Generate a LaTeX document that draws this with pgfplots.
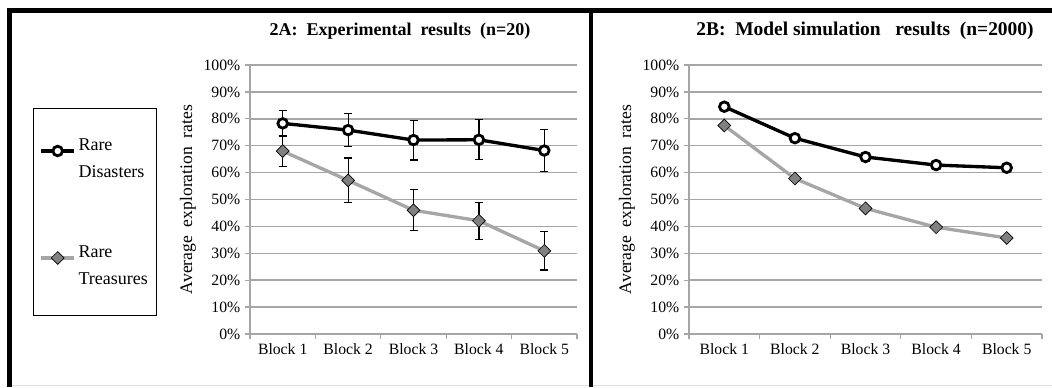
\documentclass[border=0pt]{standalone}
\usepackage{fontspec}
\setmainfont{Liberation Serif}
\usepackage{pgfplots}
\pgfplotsset{compat=1.18}
\definecolor{gridgray}{HTML}{A6A6A6}
\definecolor{lightline}{HTML}{A6A6A6}
\definecolor{markgray}{HTML}{808080}

\pgfplotsset{
  panel/.style={
    scale only axis, height=201.75pt,
    xmin=0.5, xmax=5.5, ymin=0, ymax=100,
    xtick={1,2,3,4,5},
    xticklabels={Block 1,Block 2,Block 3,Block 4,Block 5},
    major x tick style={draw=none},
    minor xtick={0.5,1.5,2.5,3.5,4.5,5.5},
    ytick={0,10,...,100},
    yticklabel={\pgfmathprintnumber{\tick}\%},
    /pgf/number format/assume math mode=true,
    ymajorgrids, grid style={gridgray, line width=1.1pt},
    axis lines*=left, axis line style={gridgray, line width=1.3pt},
    tick align=outside, tick style={gridgray, line width=1pt},
    major tick length=3.75pt, minor tick length=3.75pt,
    tick label style={font=\fontsize{11.8}{14}\selectfont},
    ylabel={Average\ \ exploration\ \ rates},
    label style={font=\fontsize{13.2}{16}\selectfont},
    legend image code/.code={\draw[mark repeat=2,mark phase=2,#1] plot coordinates {(0pt,0pt) (12.4pt,0pt) (24.75pt,0pt)};},
  },
  dis/.style={black, line width=2.5pt, mark=*, mark size=3.6pt,
    mark options={line width=2.1pt, fill=white, draw=black}},
  tre/.style={lightline, line width=2.5pt, mark=square*, mark size=3.4pt,
    mark options={rotate=45, fill=markgray, draw=black, line width=0.5pt}},
  eb/.style={error bars/.cd, y dir=both, y explicit,
    error bar style={black, line width=0.9pt},
    error mark options={rotate=90, black, mark size=3pt, line width=0.9pt}},
}

\begin{document}
\begin{tikzpicture}[x=0.75pt, y=0.75pt]
\useasboundingbox (0,0) rectangle (1052,387);

% Left panel
\begin{axis}[panel, at={(187.5pt,39.75pt)}, anchor=south west, width=245.25pt,
  ylabel style={at={(axis description cs:-0.19,0.5)}, anchor=center},
  legend style={at={(axis description cs:-0.664,0.840)}, anchor=north west,
    draw=black, line width=0.75pt, fill=white,
    font=\fontsize{13.5}{20.25}\selectfont,
    inner xsep=4.6pt, inner ysep=21pt,
    nodes={inner sep=2pt, text depth={}},
    cells={anchor=base west}, row sep=47pt},
  /tikz/every odd column/.append style={column sep=0pt},
]
\addplot[dis, eb] coordinates {
  (1,78.3) +- (0,4.9)
  (2,75.8) +- (0,6.2)
  (3,72.1) +- (0,7.4)
  (4,72.2) +- (0,7.4)
  (5,68.2) +- (0,7.8)
};
\addlegendentry{\vtop{\baselineskip=20.25pt\hbox{Rare}\hbox{Disasters}}}
\addplot[tre, eb] coordinates {
  (1,68.0) +- (0,5.6)
  (2,57.1) +- (0,8.3)
  (3,46.0) +- (0,7.6)
  (4,42.1) +- (0,6.9)
  (5,30.9) +- (0,7.1)
};
\addlegendentry{\vtop{\baselineskip=20.25pt\hbox{Rare}\hbox{Treasures}}}
\end{axis}

% Right panel
\begin{axis}[panel, at={(516.75pt,39.75pt)}, anchor=south west, width=264.75pt,
  ylabel style={at={(axis description cs:-0.176,0.5)}, anchor=center},
]
\addplot[dis] coordinates {(1,84.5) (2,72.8) (3,65.8) (4,62.8) (5,61.8)};
\addplot[tre] coordinates {(1,77.5) (2,57.8) (3,46.7) (4,39.7) (5,35.7)};
\end{axis}

% Titles
\node[font=\bfseries\fontsize{13.5}{16}\selectfont] at (400,356) {2A:\ \ Experimental\ \ results\ \ (n=20)};
\node[font=\bfseries\fontsize{14.6}{17}\selectfont] at (865,356) {2B:\ \ Model simulation\ \ \ results\ \ (n=2000)};

% Frame
\draw[black!12, line width=0.8pt] (9.5,1.2) -- (1052,1.2);
\draw[line width=3.4pt] (9.5,0) -- (9.5,376.5) -- (1052,376.5);
\draw[line width=3.2pt] (591,0) -- (591,376.5);
\end{tikzpicture}
\end{document}
